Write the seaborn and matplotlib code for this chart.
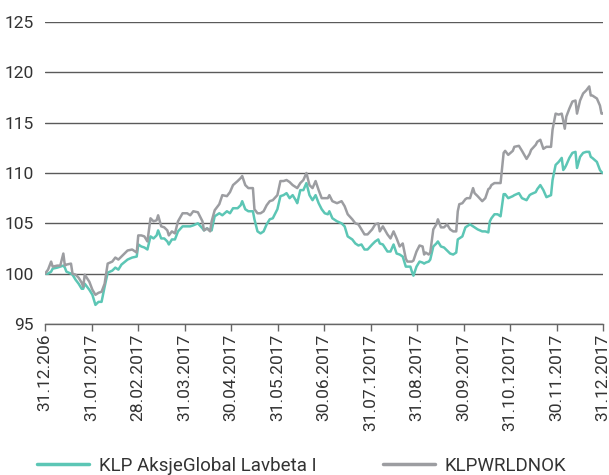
import matplotlib
matplotlib.use("Agg")
import matplotlib.pyplot as plt
from matplotlib.lines import Line2D
import seaborn as sns
import numpy as np
import pandas as pd

# Days since 31.12.2016 for each observation
days = [0, 2, 4, 5, 8, 10, 12, 13, 14, 17, 18, 20, 22, 24, 25, 26, 29, 31, 33, 35,
        37, 39, 41, 44, 46, 48, 50, 54, 57, 60, 61, 63, 65, 67, 69, 71, 73, 74, 76, 78,
        80, 81, 83, 85, 87, 90, 93, 95, 97, 100, 103, 104, 106, 108, 109, 111, 113, 114, 116, 119,
        121, 123, 126, 128, 129, 131, 133, 136, 137, 139, 141, 143, 145, 147, 149, 152, 154, 156, 158, 160,
        162, 164, 165, 167, 169, 171, 173, 175, 177, 179, 181, 183, 185, 186, 188, 191, 194, 196, 198, 201,
        203, 205, 207, 209, 211, 214, 216, 218, 219, 221, 224, 226, 228, 230, 232, 234, 236, 237, 239, 240,
        241, 243, 245, 247, 248, 249, 251, 252, 254, 256, 257, 259, 261, 263, 265, 267, 269, 270, 271, 273,
        275, 276, 278, 280, 281, 283, 286, 288, 290, 291, 292, 294, 296, 298, 300, 301, 303, 306, 307, 310,
        312, 315, 317, 318, 321, 322, 324, 326, 328, 331, 332, 334, 336, 338, 339, 340, 341, 343, 345, 347,
        348, 350, 352, 354, 356, 357, 358, 361, 363, 364, 365]

fund = [100.0, 100.0, 100.2, 100.5, 100.6, 100.7, 100.8, 100.6, 100.2, 100.0, 99.9, 99.4, 99.0, 98.5, 98.5, 99.0, 98.4, 97.9, 96.9, 97.2,
        97.2, 98.7, 100.1, 100.3, 100.6, 100.4, 100.9, 101.4, 101.6, 101.7, 102.9, 102.7, 102.6, 102.4, 103.7, 103.5, 103.8, 104.3, 103.5, 103.5,
        103.2, 102.9, 103.4, 103.4, 104.2, 104.7, 104.7, 104.7, 104.8, 105.0, 104.5, 104.3, 104.5, 104.3, 104.3, 105.7, 105.9, 106.0, 105.8, 106.2,
        106.0, 106.5, 106.5, 106.8, 107.2, 106.4, 106.2, 106.2, 105.4, 104.2, 104.0, 104.2, 104.9, 105.4, 105.5, 106.4, 107.7, 107.8, 108.0, 107.5,
        107.8, 107.3, 107.0, 108.3, 108.3, 109.0, 107.8, 107.3, 107.8, 107.0, 106.4, 106.0, 105.9, 106.2, 105.5, 105.2, 105.0, 104.7, 103.7, 103.4,
        103.0, 102.8, 102.9, 102.4, 102.4, 102.9, 103.2, 103.4, 103.0, 102.9, 102.2, 102.2, 102.9, 102.0, 101.9, 101.7, 100.7, 100.7, 100.7, 100.2,
        99.8, 100.7, 101.2, 101.1, 101.0, 101.1, 101.2, 101.4, 102.7, 103.0, 103.2, 102.7, 102.6, 102.3, 102.0, 101.9, 102.1, 103.4, 103.5, 103.7,
        104.6, 104.7, 104.9, 104.7, 104.6, 104.4, 104.2, 104.2, 104.1, 105.2, 105.5, 105.9, 105.9, 105.7, 107.9, 107.9, 107.5, 107.7, 107.8, 108.0,
        107.5, 107.3, 107.8, 107.9, 108.1, 108.4, 108.8, 108.3, 107.6, 107.8, 109.3, 110.8, 111.1, 111.5, 110.3, 110.5, 110.8, 111.5, 112.0, 112.1,
        110.5, 111.6, 112.0, 112.1, 112.1, 111.6, 111.5, 111.1, 110.3, 110.1, 110.0]

index = [100.0, 100.4, 101.2, 100.7, 100.8, 100.8, 102.0, 100.8, 100.9, 101.0, 100.0, 99.9, 99.6, 99.1, 98.7, 99.9, 99.2, 98.4, 97.9, 98.1,
         98.2, 99.0, 101.0, 101.2, 101.6, 101.4, 101.7, 102.3, 102.4, 102.1, 103.8, 103.8, 103.7, 103.2, 105.5, 105.2, 105.3, 105.8, 104.7, 104.6,
         104.3, 103.8, 104.2, 104.0, 105.2, 106.0, 106.0, 105.8, 106.2, 106.1, 105.2, 104.3, 104.5, 104.2, 105.2, 106.3, 106.7, 106.9, 107.8, 107.7,
         108.1, 108.8, 109.2, 109.5, 109.7, 108.8, 108.5, 108.5, 106.4, 106.0, 106.0, 106.2, 106.8, 107.2, 107.3, 107.8, 109.2, 109.2, 109.3, 109.1,
         108.8, 108.6, 108.5, 109.0, 109.3, 110.0, 108.8, 108.5, 109.2, 108.3, 107.5, 107.5, 107.5, 107.8, 107.2, 107.0, 107.2, 106.7, 105.9, 105.4,
         105.0, 104.9, 104.4, 103.9, 103.9, 104.4, 104.9, 105.0, 104.2, 104.7, 103.9, 103.5, 104.2, 103.5, 102.7, 103.0, 101.5, 101.2, 101.2, 101.2,
         101.3, 102.2, 102.8, 102.7, 101.9, 102.1, 101.9, 102.1, 104.4, 104.9, 105.4, 104.6, 104.6, 104.9, 104.4, 104.2, 104.2, 106.2, 106.9, 107.0,
         107.4, 107.5, 107.5, 108.5, 108.0, 107.7, 107.2, 107.5, 108.4, 108.5, 108.8, 109.0, 109.0, 109.0, 112.0, 112.2, 111.8, 112.2, 112.6, 112.7,
         112.2, 111.4, 111.9, 112.3, 112.8, 113.1, 113.3, 112.4, 112.6, 112.6, 114.3, 115.9, 115.8, 115.9, 115.2, 114.4, 115.6, 116.4, 117.1, 117.2,
         115.9, 117.2, 117.9, 118.2, 118.6, 117.7, 117.7, 117.4, 116.7, 115.9, 115.9]

tick_labels = ["31.12.206", "31.01.2017", "28.02.2017", "31.03.2017", "30.04.2017",
               "31.05.2017", "30.06.2017", "31.07.12017", "31.08.2017", "30.09.2017",
               "31.10.12017", "30.11.2017", "31.12.2017"]
y_ticks = [95, 100, 105, 110, 115, 120, 125]

series_names = ["KLP AksjeGlobal Lavbeta I", "KLPWRLDNOK"]
colors = ["#5cc6b5", "#9c9da1"]

df = pd.DataFrame({"day": days * 2,
                   "value": fund + index,
                   "series": [series_names[0]] * len(days) + [series_names[1]] * len(days)})

sns.set_theme(style="white")
plt.rcParams["font.family"] = ["Roboto", "DejaVu Sans"]

fig = plt.figure(figsize=(6.09, 4.75), dpi=100)
ax = fig.add_axes([45 / 609, 1 - 324 / 475, 558 / 609, 302 / 475])

sns.lineplot(data=df, x="day", y="value", hue="series", palette=colors,
             linewidth=1.8, ax=ax, legend=False, zorder=3)

ax.set_xlim(0, 365)
ax.set_ylim(95, 125)
ax.set_yticks(y_ticks)
ax.set_yticklabels([str(v) for v in y_ticks], fontsize=12.5, color="#333333")
ax.set_xticks(np.linspace(0, 365, len(tick_labels)))
ax.set_xticklabels(tick_labels, rotation=90, fontsize=12.5, color="#333333")
ax.tick_params(axis="y", length=0, pad=8)
ax.tick_params(axis="x", length=5, width=1, color="#666666", pad=2, direction="out",
               bottom=True)
ax.set_xlabel("")
ax.set_ylabel("")

for v in y_ticks:
    ax.axhline(v, color="#5a5a5a", linewidth=1.0, zorder=1)
for s in ["top", "right", "left"]:
    ax.spines[s].set_visible(False)
ax.spines["bottom"].set_color("#666666")
ax.spines["bottom"].set_linewidth(1.0)

# One legend entry per series, laid out side by side under the chart
legend_x = [37 / 609, 383 / 609]
for name, color, lx in zip(series_names, colors, legend_x):
    leg = fig.legend([Line2D([0], [0], color=color, linewidth=2.5)], [name],
                     loc="center left", bbox_to_anchor=(lx, 1 - 466 / 475),
                     frameon=False, handlelength=2.75, handletextpad=0.55,
                     borderpad=0, borderaxespad=0,
                     prop={"size": 13.5})
    for t in leg.get_texts():
        t.set_color("#333333")

fig.savefig("out.png", dpi=100)
